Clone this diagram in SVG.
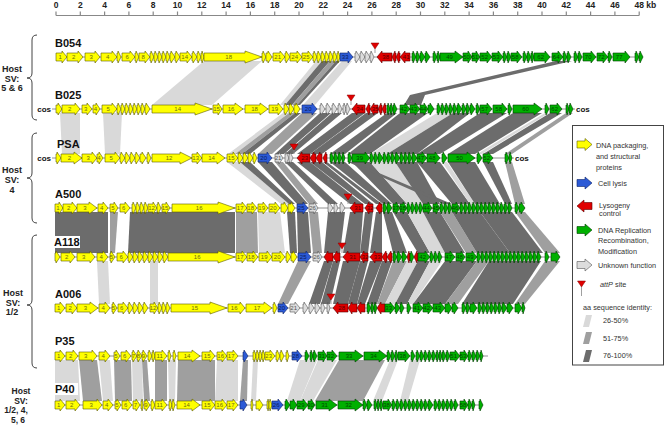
<svg xmlns="http://www.w3.org/2000/svg" width="664" height="430" viewBox="0 0 664 430">
<style>
text{font-family:"Liberation Sans",Arial,sans-serif}
.y{fill:#ffff00;stroke:#5c5c00;stroke-width:.6}
.g{fill:#00b000;stroke:#003c00;stroke-width:.6}
.r{fill:#e00000;stroke:#5a0000;stroke-width:.6}
.b{fill:#2c5ad6;stroke:#0d2466;stroke-width:.6}
.w{fill:#dcdcdc;stroke:#555;stroke-width:.6}
.bb{stroke:#777;stroke-width:.8}
.t{font-size:6px;text-anchor:middle}
.ty{fill:#6e6e10}.tg{fill:#004a00}.tr{fill:#5a0000}.tb{fill:#0b1d5a}.tw{fill:#555}
.L{fill:#d9d9d9}.M{fill:#9f9f9f}.D{fill:#6c6c6c}
.nm{font-size:11px;font-weight:bold;fill:#111}
.hs{font-size:9px;font-weight:bold;text-anchor:middle;fill:#222}
.hs2{font-size:8.5px;font-weight:bold;text-anchor:middle;fill:#222}
.ax{font-size:8.5px;font-weight:bold;text-anchor:middle;fill:#222}
.lg{font-size:7.3px;fill:#333}
.cos{font-size:8px;font-weight:bold;fill:#111}
.br{fill:none;stroke:#444;stroke-width:1}
</style>
<defs>
<path id="r2" d="M0 -4h1v-2l1 6l-1 6v-2h-1z"/>
<path id="r3" d="M0 -4h1v-2l2 6l-2 6v-2h-1z"/>
<path id="r4" d="M0 -4h1v-2l3 6l-3 6v-2h-1z"/>
<path id="r5" d="M0 -4h1v-2l4 6l-4 6v-2h-1z"/>
<path id="r6" d="M0 -4h2v-2l4 6l-4 6v-2h-2z"/>
<path id="r7" d="M0 -4h3v-2l4 6l-4 6v-2h-3z"/>
<path id="r8" d="M0 -4h4v-2l4 6l-4 6v-2h-4z"/>
<path id="r9" d="M0 -4h5v-2l4 6l-4 6v-2h-5z"/>
<path id="r10" d="M0 -4h5v-2l5 6l-5 6v-2h-5z"/>
<path id="r11" d="M0 -4h6v-2l5 6l-5 6v-2h-6z"/>
<path id="r12" d="M0 -4h7v-2l5 6l-5 6v-2h-7z"/>
<path id="r13" d="M0 -4h8v-2l5 6l-5 6v-2h-8z"/>
<path id="r14" d="M0 -4h9v-2l5 6l-5 6v-2h-9z"/>
<path id="r15" d="M0 -4h10v-2l5 6l-5 6v-2h-10z"/>
<path id="r16" d="M0 -4h11v-2l5 6l-5 6v-2h-11z"/>
<path id="r17" d="M0 -4h12v-2l5 6l-5 6v-2h-12z"/>
<path id="r18" d="M0 -4h13v-2l5 6l-5 6v-2h-13z"/>
<path id="r19" d="M0 -4h14v-2l5 6l-5 6v-2h-14z"/>
<path id="r20" d="M0 -4h12v-2l8 6l-8 6v-2h-12z"/>
<path id="r21" d="M0 -4h13v-2l8 6l-8 6v-2h-13z"/>
<path id="r22" d="M0 -4h14v-2l8 6l-8 6v-2h-14z"/>
<path id="r23" d="M0 -4h15v-2l8 6l-8 6v-2h-15z"/>
<path id="r24" d="M0 -4h16v-2l8 6l-8 6v-2h-16z"/>
<path id="r25" d="M0 -4h17v-2l8 6l-8 6v-2h-17z"/>
<path id="r26" d="M0 -4h18v-2l8 6l-8 6v-2h-18z"/>
<path id="r27" d="M0 -4h19v-2l8 6l-8 6v-2h-19z"/>
<path id="r29" d="M0 -4h21v-2l8 6l-8 6v-2h-21z"/>
<path id="r40" d="M0 -4h28v-2l12 6l-12 6v-2h-28z"/>
<path id="r56" d="M0 -4h39v-2l17 6l-17 6v-2h-39z"/>
<path id="r58" d="M0 -4h41v-2l17 6l-17 6v-2h-41z"/>
<path id="r60" d="M0 -4h43v-2l17 6l-17 6v-2h-43z"/>
<path id="r63" d="M0 -4h46v-2l17 6l-17 6v-2h-46z"/>
<path id="r67" d="M0 -4h50v-2l17 6l-17 6v-2h-50z"/>
<path id="l3" d="M3 -4h-1v-2l-2 6l2 6v-2h1z"/>
<path id="l4" d="M4 -4h-1v-2l-3 6l3 6v-2h1z"/>
<path id="l5" d="M5 -4h-1v-2l-4 6l4 6v-2h1z"/>
<path id="l6" d="M6 -4h-2v-2l-4 6l4 6v-2h2z"/>
<path id="l7" d="M7 -4h-3v-2l-4 6l4 6v-2h3z"/>
<path id="l8" d="M8 -4h-4v-2l-4 6l4 6v-2h4z"/>
<path id="l9" d="M9 -4h-5v-2l-4 6l4 6v-2h5z"/>
<path id="l10" d="M10 -4h-5v-2l-5 6l5 6v-2h5z"/>
<path id="l12" d="M12 -4h-7v-2l-5 6l5 6v-2h7z"/>
<path id="l13" d="M13 -4h-8v-2l-5 6l5 6v-2h8z"/>
<path id="l15" d="M15 -4h-10v-2l-5 6l5 6v-2h10z"/>
<path id="l17" d="M17 -4h-12v-2l-5 6l5 6v-2h12z"/>
<g id="att"><line x1="0" y1="-8" x2="0" y2="-4" stroke="#888" stroke-width=".8"/><path d="M-4 -14h8l-4 6z" fill="#e00000" stroke="#800" stroke-width=".5"/></g>
</defs>
<rect width="664" height="430" fill="#fff"/>

<g id="axis">
<path d="M56 15.5H639.2M56 11.5v4M80.3 11.5v4M104.6 11.5v4M128.9 11.5v4M153.2 11.5v4M177.5 11.5v4M201.8 11.5v4M226.1 11.5v4M250.4 11.5v4M274.7 11.5v4M299 11.5v4M323.3 11.5v4M347.6 11.5v4M371.9 11.5v4M396.2 11.5v4M420.5 11.5v4M444.8 11.5v4M469.1 11.5v4M493.4 11.5v4M517.7 11.5v4M542 11.5v4M566.3 11.5v4M590.6 11.5v4M614.9 11.5v4M639.2 11.5v4" stroke="#888" stroke-width="1.2" fill="none"/>
<g class="ax">
<text x="56" y="8">0</text><text x="80.3" y="8">2</text><text x="104.6" y="8">4</text><text x="128.9" y="8">6</text><text x="153.2" y="8">8</text><text x="177.5" y="8">10</text><text x="201.8" y="8">12</text><text x="226.1" y="8">14</text><text x="250.4" y="8">16</text><text x="274.7" y="8">18</text><text x="299" y="8">20</text><text x="323.3" y="8">22</text><text x="347.6" y="8">24</text><text x="371.9" y="8">26</text><text x="396.2" y="8">28</text><text x="420.5" y="8">30</text><text x="444.8" y="8">32</text><text x="469.1" y="8">34</text><text x="493.4" y="8">36</text><text x="517.7" y="8">38</text><text x="542" y="8">40</text><text x="566.3" y="8">42</text><text x="590.6" y="8">44</text><text x="614.9" y="8">46</text><text x="634.5" y="8" style="text-anchor:start">48 kb</text>
</g>
</g>

<g id="connectors">
<polygon class="L" points="204,61 262,61 212,105 152,105"/>
<polygon class="L" points="316,61 322,61 285,105 280,105"/>
<polygon class="D" points="322,61 330,61 292,105 285,105"/>
<polygon class="M" points="330,61 336,61 297,105 292,105"/>
<polygon class="D" points="336,61 340,61 300,105 297,105"/>
<polygon class="L" points="342,61 352,61 315,105 303,105"/>
<polygon class="D" points="556,61 572,61 425,95 421,105 404,105 410,95"/>

<polygon class="L" points="60,113 80,113 80,154 62,154"/>
<polygon class="L" points="103,113 122,113 120,154 105,154"/>
<polygon class="L" points="283,113 289,113 235,154 228,154"/>
<polygon class="M" points="289,113 295,113 242,154 235,154"/>
<polygon class="D" points="295,113 301,113 250,154 242,154"/>
<polygon class="M" points="302,113 317,113 272,154 258,154"/>
<polygon class="D" points="320,113 331,113 284,154 275,154"/>
<polygon class="D" points="332,113 342,113 293,154 285,154"/>
<polygon class="D" points="352,113 365,113 310,154 297,154"/>
<polygon class="D" points="366,113 378,113 322,154 310,154"/>
<polygon class="D" points="387,113 397,113 345,154 330,154"/>
<polygon class="D" points="400,113 428,113 370,154 348,154"/>
<polygon class="L" points="437,113 453,113 387,154 370,154"/>
<polygon class="D" points="453,113 470,113 417,154 387,154"/>
<polygon class="D" points="480,113 507,113 440,154 417,154"/>
<polygon class="D" points="513,113 542,113 475,154 448,154"/>
<polygon class="L" points="545,113 549,113 482,154 477,154"/>
<polygon class="D" points="550,113 562,113 493,154 483,154"/>
<polygon class="M" points="566,113 573,113 512,154 505,154"/>

<polygon class="L" points="227,162 240,162 289,204 281,204"/>
<polygon class="D" points="240,162 250,162 295,204 289,204"/>
<polygon class="D" points="258,162 272,162 308,204 297,204"/>
<polygon class="M" points="275,162 283,162 318,204 309,204"/>
<polygon class="D" points="285,162 293,162 338,204 328,204"/>
<polygon class="D" points="297,162 310,162 363,204 350,204"/>
<polygon class="D" points="310,162 322,162 373,204 365,204"/>
<polygon class="D" points="323,162 327,162 382,204 376,204"/>
<polygon class="D" points="330,162 345,162 392,204 383,204"/>
<polygon class="D" points="352,162 370,162 407,204 393,204"/>
<polygon class="L" points="370,162 395,162 423,204 407,204"/>
<polygon class="D" points="395,162 417,162 440,204 423,204"/>
<polygon class="D" points="348,162 353,162 452,204 443,204"/>
<polygon class="D" points="417,162 440,162 470,204 452,204"/>
<polygon class="L" points="442,162 447,162 475,204 470,204"/>
<polygon class="D" points="448,162 475,162 500,204 475,204"/>
<polygon class="D" points="483,162 493,162 512,204 505,204"/>
<polygon class="M" points="505,162 512,162 525,204 515,204"/>

<polygon class="D" points="55,212 108,212 108,253 55,253"/>
<polygon class="M" points="110,212 118,212 115,253 110,253"/>
<polygon class="D" points="130,212 235,212 235,253 128,253"/>
<polygon class="M" points="236,212 257,212 258,253 236,253"/>
<polygon class="L" points="258,212 280,212 285,253 259,253"/>
<polygon class="D" points="287,212 295,212 297,253 290,253"/>
<polygon class="D" points="297,212 308,212 311,253 298,253"/>
<polygon class="M" points="309,212 318,212 322,253 313,253"/>
<polygon class="D" points="328,212 345,212 340,253 324,253"/>
<polygon class="D" points="350,212 363,212 360,253 343,253"/>
<polygon class="D" points="365,212 373,212 368,253 360,253"/>
<polygon class="D" points="376,212 382,212 382,253 370,253"/>
<polygon class="D" points="383,212 392,212 407,253 393,253"/>
<polygon class="D" points="393,212 407,212 430,253 418,253"/>
<polygon class="L" points="407,212 423,212 445,253 430,253"/>
<polygon class="D" points="423,212 440,212 465,253 445,253"/>
<polygon class="M" points="440,212 452,212 477,253 466,253"/>
<polygon class="D" points="452,212 480,212 510,253 477,253"/>
<polygon class="D" points="480,212 512,212 543,253 510,253"/>
<polygon class="M" points="515,212 525,212 560,253 545,253"/>

<polygon class="L" points="97,261 108,261 110,304 99,304"/>
<polygon class="L" points="150,261 158,261 158,304 150,304"/>
<polygon class="M" points="298,261 311,261 288,304 278,304"/>
<polygon class="D" points="324,261 333,261 320,304 309,304"/>
<polygon class="D" points="333,261 340,261 330,304 321,304"/>
<polygon class="D" points="343,261 360,261 348,304 333,304"/>
<polygon class="D" points="360,261 368,261 357,304 348,304"/>
<polygon class="D" points="370,261 382,261 365,304 357,304"/>
<polygon class="D" points="382,261 392,261 377,304 367,304"/>
<polygon class="M" points="393,261 407,261 385,304 377,304"/>
<polygon class="L" points="407,261 418,261 395,304 385,304"/>
<polygon class="D" points="418,261 430,261 407,304 395,304"/>
<polygon class="L" points="430,261 442,261 413,304 407,304"/>
<polygon class="D" points="445,261 477,261 445,304 413,304"/>
<polygon class="M" points="477,261 489,261 458,304 445,304"/>
<polygon class="D" points="489,261 541,261 513,304 462,304"/>
<polygon class="M" points="545,261 560,261 525,304 515,304"/>

<polygon class="L" points="55,360 78,360 80,401 55,401"/>
<polygon class="M" points="79,360 97,360 102,401 83,401"/>
<polygon class="L" points="99,360 110,360 113,401 103,401"/>
<polygon class="M" points="114,360 131,360 132,401 115,401"/>
<polygon class="L" points="132,360 142,360 143,401 133,401"/>
<polygon class="M" points="142,360 147,360 150,401 144,401"/>
<polygon class="M" points="155,360 167,360 167,401 155,401"/>
<polygon class="L" points="168,360 176,360 175,401 169,401"/>
<polygon class="M" points="178,360 215,360 215,401 177,401"/>
<polygon class="L" points="217,360 238,360 238,401 215,401"/>
<polygon class="M" points="243,360 248,360 247,401 240,401"/>
<polygon class="L" points="253,360 258,360 256,401 251,401"/>
<polygon class="L" points="300,360 317,360 300,401 287,401"/>
<polygon class="L" points="318,360 337,360 313,401 300,401"/>
<polygon class="M" points="339,360 385,360 363,401 315,401"/>
<polygon class="L" points="390,360 398,360 382,401 373,401"/>
<polygon class="L" points="410,360 420,360 408,401 400,401"/>
</g>

<g id="genome-B054" transform="translate(0,57)">
<line class="bb" x1="56" y1="0" x2="643" y2="0"/>
<g class="y"><use href="#r11" x="56"/><use href="#r16" x="67"/><use href="#r15" x="85"/><use href="#r16" x="101"/><use href="#r4" x="117"/><use href="#r13" x="122"/><use href="#r4" x="135"/><use href="#r11" x="139"/><use href="#r4" x="150"/><use href="#r4" x="154"/><use href="#r4" x="158"/><use href="#r4" x="162"/><use href="#r4" x="166"/><use href="#r5" x="170"/><use href="#r5" x="175"/><use href="#r12" x="180"/><use href="#r5" x="192"/><use href="#r4" x="197"/><use href="#r3" x="201"/><use href="#r58" x="204"/><use href="#r4" x="262"/><use href="#r6" x="266"/><use href="#r12" x="273"/><use href="#r5" x="285"/><use href="#r12" x="290"/><use href="#r11" x="302"/><use href="#r4" x="313"/><use href="#r4" x="317"/><use href="#r4" x="321"/><use href="#r4" x="325"/><use href="#r4" x="329"/><use href="#r4" x="333"/><use href="#r3" x="337"/></g>
<g class="b"><use href="#r13" x="340"/></g>
<g class="w"><use href="#r5" x="355"/><use href="#r5" x="360"/><use href="#r5" x="365"/><use href="#r4" x="370"/></g>
<g class="r"><use href="#l15" x="377"/><use href="#l4" x="392"/><use href="#l4" x="396"/><use href="#l10" x="400"/></g>
<g class="g"><use href="#r4" x="412"/><use href="#r4" x="416"/><use href="#r5" x="420"/><use href="#r5" x="425"/><use href="#r4" x="433"/><use href="#r3" x="437"/><use href="#r23" x="440"/><use href="#r9" x="463"/><use href="#r8" x="472"/><use href="#r12" x="480"/><use href="#r11" x="492"/><use href="#r4" x="503"/><use href="#r4" x="507"/><use href="#r11" x="511"/><use href="#r4" x="523"/><use href="#r4" x="527"/><use href="#r3" x="531"/><use href="#r16" x="534"/><use href="#r11" x="552"/><use href="#r4" x="563"/><use href="#r4" x="567"/><use href="#r4" x="574"/><use href="#r4" x="578"/><use href="#r13" x="583"/><use href="#r11" x="597"/><use href="#r4" x="608"/><use href="#r17" x="613"/><use href="#r4" x="635"/><use href="#r4" x="639"/></g>
<use href="#att" x="375"/>
<g class="t ty"><text x="60.2" y="2">1</text><text x="73.7" y="2">2</text><text x="91.2" y="2">3</text><text x="107.7" y="2">4</text><text x="127.2" y="2">6</text><text x="143.2" y="2">8</text><text x="184.7" y="2">14</text><text x="228.7" y="2">18</text><text x="277.7" y="2">21</text><text x="294.7" y="2">24</text><text x="306.2" y="2">25</text></g>
<g class="t tb"><text x="345.2" y="2">33</text></g>
<g class="t tr"><text x="385.7" y="2">38</text><text x="406.2" y="2">41</text></g>
<g class="t tg"><text x="449.5" y="2">49</text><text x="466.5" y="2">50</text><text x="475" y="2">51</text><text x="484.7" y="2">52</text><text x="496.2" y="2">53</text><text x="515.2" y="2">58</text><text x="540.7" y="2">62</text><text x="556.2" y="2">64</text><text x="588.2" y="2">70</text><text x="601.2" y="2">72</text><text x="619.2" y="2">77</text></g>
<text class="nm" x="55" y="-10">B054</text>
</g>

<g id="genome-B025" transform="translate(0,109)">
<line class="bb" x1="52" y1="0" x2="575" y2="0"/>
<text class="cos" x="51" y="3" text-anchor="end">cos</text>
<text class="cos" x="576" y="3">cos</text>
<g class="y"><use href="#r6" x="56"/><use href="#r18" x="62"/><use href="#r10" x="82"/><use href="#r7" x="93"/><use href="#r15" x="102"/><use href="#r4" x="117"/><use href="#r4" x="121"/><use href="#r4" x="125"/><use href="#r4" x="129"/><use href="#r4" x="133"/><use href="#r4" x="137"/><use href="#r4" x="141"/><use href="#r5" x="145"/><use href="#r60" x="152"/><use href="#r9" x="213"/><use href="#r20" x="223"/><use href="#r23" x="245"/><use href="#r14" x="269"/><use href="#r5" x="284"/><use href="#r5" x="289"/><use href="#r6" x="294"/></g>
<g class="b"><use href="#r15" x="302"/></g>
<g class="w"><use href="#r5" x="320"/><use href="#r5" x="326"/><use href="#r5" x="332"/><use href="#r4" x="338"/><use href="#r3" x="343"/><use href="#r4" x="346"/></g>
<g class="r"><use href="#l13" x="352"/><use href="#l4" x="366"/><use href="#l8" x="370"/><use href="#l4" x="378"/><use href="#l4" x="382"/></g>
<g class="g"><use href="#r3" x="387"/><use href="#r3" x="390"/><use href="#r4" x="393"/><use href="#r10" x="400"/><use href="#r10" x="410"/><use href="#r8" x="420"/><use href="#r6" x="428"/><use href="#r4" x="437"/><use href="#r4" x="441"/><use href="#r4" x="445"/><use href="#r4" x="449"/><use href="#r4" x="453"/><use href="#r5" x="457"/><use href="#r4" x="462"/><use href="#r4" x="466"/><use href="#r5" x="470"/><use href="#r4" x="476"/><use href="#r12" x="480"/><use href="#r14" x="493"/><use href="#r4" x="508"/><use href="#r29" x="513"/><use href="#r4" x="545"/><use href="#r12" x="550"/><use href="#r3" x="566"/><use href="#r4" x="569"/></g>
<use href="#att" x="351"/>
<g class="t ty"><text x="69.7" y="2">2</text><text x="85.7" y="2">3</text><text x="95.5" y="2">4</text><text x="108.2" y="2">5</text><text x="177.7" y="2">14</text><text x="216.5" y="2">15</text><text x="231" y="2">16</text><text x="254.5" y="2">18</text><text x="274.7" y="2">19</text></g>
<g class="t tb"><text x="308.2" y="2">20</text></g>
<g class="t tr"><text x="359.7" y="2">34</text><text x="375" y="2">35</text></g>
<g class="t tg"><text x="403.7" y="2">42</text><text x="413.7" y="2">43</text><text x="423" y="2">44</text><text x="484.7" y="2">57</text><text x="498.7" y="2">58</text><text x="525.5" y="2">60</text><text x="554.7" y="2">62</text></g>
<text class="nm" x="55" y="-10">B025</text>
</g>

<g id="genome-PSA" transform="translate(0,158)">
<line class="bb" x1="52" y1="0" x2="514" y2="0"/>
<text class="cos" x="51" y="3" text-anchor="end">cos</text>
<text class="cos" x="515" y="3">cos</text>
<g class="y"><use href="#r5" x="56"/><use href="#r21" x="61"/><use href="#r15" x="82"/><use href="#r6" x="97"/><use href="#r15" x="105"/><use href="#r5" x="120"/><use href="#r5" x="125"/><use href="#r5" x="130"/><use href="#r5" x="135"/><use href="#r6" x="140"/><use href="#r4" x="147"/><use href="#r40" x="152"/><use href="#r10" x="192"/><use href="#r23" x="202"/><use href="#r11" x="227"/><use href="#r5" x="238"/><use href="#r5" x="243"/><use href="#r5" x="248"/><use href="#r4" x="253"/></g>
<g class="b"><use href="#r14" x="258"/></g>
<g class="w"><use href="#r8" x="275"/><use href="#r4" x="285"/><use href="#r4" x="289"/></g>
<g class="r"><use href="#l13" x="297"/><use href="#l6" x="310"/><use href="#l6" x="316"/><use href="#l4" x="323"/></g>
<g class="g"><use href="#r4" x="330"/><use href="#r4" x="334"/><use href="#r4" x="338"/><use href="#r3" x="342"/><use href="#r4" x="348"/><use href="#r18" x="352"/><use href="#r4" x="370"/><use href="#r4" x="374"/><use href="#r5" x="378"/><use href="#r4" x="383"/><use href="#r4" x="387"/><use href="#r4" x="391"/><use href="#r5" x="395"/><use href="#r4" x="400"/><use href="#r4" x="404"/><use href="#r4" x="408"/><use href="#r5" x="412"/><use href="#r10" x="417"/><use href="#r13" x="427"/><use href="#r5" x="442"/><use href="#r27" x="448"/><use href="#r5" x="477"/><use href="#r10" x="483"/><use href="#r4" x="505"/><use href="#r3" x="509"/></g>
<use href="#att" x="294"/>
<g class="t ty"><text x="69.5" y="2">2</text><text x="88.2" y="2">3</text><text x="99" y="2">4</text><text x="111.2" y="2">5</text><text x="169" y="2">12</text><text x="195.7" y="2">13</text><text x="211.5" y="2">14</text><text x="231.2" y="2">15</text></g>
<g class="t tb"><text x="263.7" y="2">20</text></g>
<g class="t tw"><text x="278" y="2">21</text></g>
<g class="t tr"><text x="304.7" y="2">23</text></g>
<g class="t tg"><text x="359.7" y="2">39</text><text x="420.7" y="2">47</text><text x="432.2" y="2">48</text><text x="459.5" y="2">50</text><text x="486.7" y="2">52</text></g>
<text class="nm" x="57" y="-10">PSA</text>
</g>

<g id="genome-A500" transform="translate(0,208)">
<line class="bb" x1="55" y1="0" x2="525" y2="0"/>
<g class="y"><use href="#r8" x="55"/><use href="#r14" x="63"/><use href="#r20" x="77"/><use href="#r10" x="98"/><use href="#r8" x="110"/><use href="#r10" x="120"/><use href="#r4" x="132"/><use href="#r4" x="136"/><use href="#r4" x="140"/><use href="#r4" x="144"/><use href="#r9" x="148"/><use href="#r4" x="157"/><use href="#r8" x="162"/><use href="#r63" x="172"/><use href="#r11" x="236"/><use href="#r10" x="247"/><use href="#r10" x="258"/><use href="#r11" x="269"/><use href="#r7" x="281"/><use href="#r7" x="288"/></g>
<g class="b"><use href="#r11" x="297"/></g>
<g class="w"><use href="#r9" x="309"/><use href="#r5" x="328"/><use href="#r4" x="334"/><use href="#r5" x="340"/></g>
<g class="r"><use href="#l13" x="350"/><use href="#l8" x="365"/><use href="#l6" x="376"/></g>
<g class="g"><use href="#r4" x="383"/><use href="#r5" x="387"/><use href="#r7" x="393"/><use href="#r7" x="400"/><use href="#r4" x="407"/><use href="#r4" x="411"/><use href="#r4" x="415"/><use href="#r4" x="419"/><use href="#r9" x="423"/><use href="#r7" x="433"/><use href="#r4" x="440"/><use href="#r4" x="444"/><use href="#r4" x="448"/><use href="#r8" x="452"/><use href="#r4" x="460"/><use href="#r4" x="464"/><use href="#r4" x="468"/><use href="#r4" x="472"/><use href="#r4" x="476"/><use href="#r4" x="480"/><use href="#r4" x="484"/><use href="#r4" x="488"/><use href="#r4" x="492"/><use href="#r4" x="496"/><use href="#r4" x="500"/><use href="#r4" x="504"/><use href="#r4" x="508"/><use href="#r4" x="515"/><use href="#r6" x="519"/></g>
<use href="#att" x="348"/>
<g class="t ty"><text x="58" y="2">1</text><text x="68.7" y="2">2</text><text x="85" y="2">3</text><text x="101.7" y="2">4</text><text x="113" y="2">5</text><text x="123.7" y="2">6</text><text x="151.5" y="2">12</text><text x="165" y="2">15</text><text x="199.2" y="2">16</text><text x="240.2" y="2">17</text><text x="250.7" y="2">18</text><text x="261.7" y="2">19</text><text x="273.2" y="2">20</text></g>
<g class="t tb"><text x="301.2" y="2">25</text></g>
<g class="t tw"><text x="312.5" y="2">26</text></g>
<g class="t tr"><text x="357.7" y="2">31</text><text x="370" y="2">32</text></g>
<g class="t tg"><text x="395.5" y="2">37</text><text x="402.5" y="2">38</text><text x="426.5" y="2">44</text><text x="435.5" y="2">45</text><text x="455" y="2">46</text></g>
<text class="nm" x="55" y="-10">A500</text>
</g>

<g id="genome-A118" transform="translate(0,257)">
<line class="bb" x1="55" y1="0" x2="560" y2="0"/>
<g class="y"><use href="#r5" x="55"/><use href="#r14" x="61"/><use href="#r18" x="77"/><use href="#r11" x="97"/><use href="#r5" x="110"/><use href="#r11" x="117"/><use href="#r5" x="128"/><use href="#r5" x="133"/><use href="#r5" x="138"/><use href="#r5" x="143"/><use href="#r5" x="148"/><use href="#r5" x="153"/><use href="#r5" x="158"/><use href="#r5" x="163"/><use href="#r67" x="168"/><use href="#r11" x="236"/><use href="#r11" x="247"/><use href="#r13" x="259"/><use href="#r13" x="272"/><use href="#r5" x="286"/><use href="#r6" x="291"/></g>
<g class="b"><use href="#r13" x="298"/></g>
<g class="w"><use href="#r9" x="313"/></g>
<g class="r"><use href="#l9" x="324"/><use href="#l7" x="333"/><use href="#l17" x="343"/><use href="#l8" x="360"/><use href="#l12" x="370"/><use href="#l5" x="382"/><use href="#l5" x="387"/><use href="#l3" x="407"/><use href="#l4" x="414"/></g>
<g class="g"><use href="#r4" x="393"/><use href="#r5" x="397"/><use href="#r5" x="402"/><use href="#r4" x="410"/><use href="#r12" x="418"/><use href="#r4" x="430"/><use href="#r4" x="434"/><use href="#r4" x="438"/><use href="#r10" x="445"/><use href="#r9" x="456"/><use href="#r11" x="466"/><use href="#r4" x="477"/><use href="#r4" x="481"/><use href="#r4" x="485"/><use href="#r4" x="489"/><use href="#r4" x="493"/><use href="#r4" x="497"/><use href="#r4" x="501"/><use href="#r4" x="505"/><use href="#r4" x="509"/><use href="#r4" x="513"/><use href="#r4" x="517"/><use href="#r4" x="521"/><use href="#r4" x="525"/><use href="#r4" x="529"/><use href="#r4" x="533"/><use href="#r4" x="537"/><use href="#r4" x="545"/><use href="#r9" x="551"/></g>
<use href="#att" x="342"/>
<g class="t ty"><text x="66.7" y="2">2</text><text x="83.7" y="2">3</text><text x="101.2" y="2">4</text><text x="111.5" y="2">5</text><text x="121.2" y="2">6</text><text x="197.2" y="2">16</text><text x="240.2" y="2">17</text><text x="251.2" y="2">18</text><text x="264.2" y="2">19</text><text x="277.2" y="2">20</text></g>
<g class="t tb"><text x="303.2" y="2">25</text></g>
<g class="t tw"><text x="316.5" y="2">26</text></g>
<g class="t tr"><text x="352.7" y="2">31</text><text x="365" y="2">32</text><text x="377.2" y="2">33</text></g>
<g class="t tg"><text x="422.7" y="2">42</text><text x="448.7" y="2">47</text><text x="459.5" y="2">48</text><text x="470.2" y="2">49</text></g>
<rect x="53" y="-21" width="27" height="12" fill="#fff"/>
<text class="nm" x="54" y="-11">A118</text>
</g>

<g id="genome-A006" transform="translate(0,308)">
<line class="bb" x1="55" y1="0" x2="525" y2="0"/>
<g class="y"><use href="#r10" x="55"/><use href="#r11" x="66"/><use href="#r21" x="77"/><use href="#r11" x="99"/><use href="#r5" x="112"/><use href="#r10" x="118"/><use href="#r5" x="128"/><use href="#r5" x="133"/><use href="#r5" x="138"/><use href="#r5" x="143"/><use href="#r8" x="150"/><use href="#r4" x="158"/><use href="#r4" x="162"/><use href="#r4" x="166"/><use href="#r56" x="171"/><use href="#r17" x="228"/><use href="#r26" x="246"/><use href="#r4" x="273"/></g>
<g class="b"><use href="#r10" x="278"/></g>
<g class="w"><use href="#r10" x="290"/><use href="#r5" x="303"/><use href="#r5" x="309"/><use href="#r5" x="315"/><use href="#r4" x="321"/><use href="#r3" x="327"/></g>
<g class="r"><use href="#l15" x="333"/><use href="#l9" x="348"/><use href="#l8" x="357"/><use href="#l8" x="377"/></g>
<g class="g"><use href="#r4" x="367"/><use href="#r3" x="371"/><use href="#r3" x="374"/><use href="#r10" x="385"/><use href="#r5" x="395"/><use href="#r4" x="400"/><use href="#r4" x="407"/><use href="#r10" x="413"/><use href="#r10" x="423"/><use href="#r12" x="433"/><use href="#r7" x="445"/><use href="#r6" x="452"/><use href="#r4" x="462"/><use href="#r4" x="466"/><use href="#r7" x="470"/><use href="#r4" x="478"/><use href="#r4" x="482"/><use href="#r4" x="486"/><use href="#r4" x="490"/><use href="#r4" x="494"/><use href="#r4" x="498"/><use href="#r5" x="502"/><use href="#r6" x="507"/><use href="#r7" x="515"/><use href="#r3" x="522"/></g>
<use href="#att" x="331"/>
<g class="t ty"><text x="58.7" y="2">1</text><text x="70.2" y="2">2</text><text x="85.5" y="2">3</text><text x="103.2" y="2">4</text><text x="113.5" y="2">5</text><text x="121.7" y="2">6</text><text x="153" y="2">12</text><text x="194.7" y="2">15</text><text x="234.2" y="2">16</text><text x="257" y="2">17</text></g>
<g class="t tb"><text x="281.7" y="2">20</text></g>
<g class="t tw"><text x="293.7" y="2">21</text></g>
<g class="t tr"><text x="341.7" y="2">28</text></g>
<g class="t tg"><text x="388.7" y="2">33</text><text x="416.7" y="2">41</text><text x="426.7" y="2">42</text><text x="437.7" y="2">43</text></g>
<text class="nm" x="55" y="-10">A006</text>
</g>

<g id="genome-P35" transform="translate(0,356)">
<line class="bb" x1="55" y1="0" x2="488" y2="0"/>
<g class="y"><use href="#r10" x="55"/><use href="#r12" x="66"/><use href="#r18" x="79"/><use href="#r11" x="99"/><use href="#r6" x="114"/><use href="#r10" x="121"/><use href="#r5" x="132"/><use href="#r5" x="137"/><use href="#r5" x="142"/><use href="#r4" x="148"/><use href="#r3" x="152"/><use href="#r12" x="155"/><use href="#r3" x="168"/><use href="#r3" x="173"/><use href="#r22" x="178"/><use href="#r13" x="202"/><use href="#r10" x="217"/><use href="#r11" x="227"/><use href="#r3" x="253"/><use href="#r3" x="256"/><use href="#r3" x="259"/><use href="#r3" x="262"/><use href="#r10" x="265"/><use href="#r4" x="276"/><use href="#r4" x="280"/><use href="#r3" x="286"/></g>
<g class="b"><use href="#r5" x="243"/><use href="#r10" x="292"/></g>
<g class="g"><use href="#r4" x="305"/><use href="#r3" x="310"/><use href="#r4" x="313"/><use href="#r9" x="318"/><use href="#r10" x="327"/><use href="#r24" x="339"/><use href="#r23" x="364"/><use href="#r4" x="387"/><use href="#r4" x="391"/><use href="#r3" x="395"/><use href="#r12" x="398"/><use href="#r4" x="411"/><use href="#r4" x="416"/><use href="#r4" x="420"/><use href="#r4" x="424"/><use href="#r4" x="428"/><use href="#r4" x="432"/><use href="#r3" x="436"/><use href="#r3" x="439"/><use href="#r4" x="442"/><use href="#r4" x="446"/><use href="#r10" x="450"/><use href="#r8" x="460"/><use href="#r4" x="468"/><use href="#r4" x="472"/><use href="#r4" x="476"/><use href="#r3" x="480"/></g>
<g class="t ty"><text x="58.7" y="2">1</text><text x="70.7" y="2">2</text><text x="85.7" y="2">3</text><text x="103.2" y="2">4</text><text x="116" y="2">5</text><text x="124.7" y="2">6</text><text x="133.5" y="2">7</text><text x="138.5" y="2">8</text><text x="143.5" y="2">9</text><text x="159.7" y="2">11</text><text x="187" y="2">14</text><text x="207.2" y="2">15</text><text x="220.7" y="2">16</text><text x="231.2" y="2">17</text><text x="268.7" y="2">23</text></g>
<g class="t tb"><text x="295.7" y="2">28</text></g>
<g class="t tg"><text x="321.5" y="2">31</text><text x="330.7" y="2">32</text><text x="349" y="2">33</text><text x="373.5" y="2">34</text><text x="402.7" y="2">38</text><text x="453.7" y="2">51</text><text x="463" y="2">53</text></g>
<text class="nm" x="55" y="-11">P35</text>
</g>

<g id="genome-P40" transform="translate(0,405)">
<line class="bb" x1="55" y1="0" x2="483" y2="0"/>
<g class="y"><use href="#r10" x="55"/><use href="#r14" x="66"/><use href="#r19" x="83"/><use href="#r10" x="103"/><use href="#r6" x="115"/><use href="#r10" x="122"/><use href="#r7" x="133"/><use href="#r2" x="141"/><use href="#r6" x="144"/><use href="#r4" x="151"/><use href="#r12" x="155"/><use href="#r3" x="169"/><use href="#r3" x="172"/><use href="#r23" x="177"/><use href="#r13" x="202"/><use href="#r12" x="215"/><use href="#r11" x="227"/><use href="#r2" x="251"/><use href="#r7" x="256"/><use href="#r2" x="267"/><use href="#r3" x="269"/></g>
<g class="b"><use href="#r7" x="240"/><use href="#r11" x="272"/></g>
<g class="g"><use href="#r5" x="285"/><use href="#r7" x="290"/><use href="#r11" x="297"/><use href="#r7" x="308"/><use href="#r21" x="316"/><use href="#r25" x="338"/><use href="#r4" x="363"/><use href="#r5" x="367"/><use href="#r3" x="374"/><use href="#r3" x="377"/><use href="#r3" x="380"/><use href="#r9" x="383"/><use href="#r4" x="392"/><use href="#r4" x="396"/><use href="#r4" x="400"/><use href="#r4" x="404"/><use href="#r4" x="408"/><use href="#r4" x="412"/><use href="#r4" x="416"/><use href="#r4" x="420"/><use href="#r4" x="424"/><use href="#r5" x="428"/><use href="#r4" x="434"/><use href="#r4" x="438"/><use href="#r4" x="442"/><use href="#r4" x="446"/><use href="#r4" x="450"/><use href="#r4" x="454"/><use href="#r8" x="460"/><use href="#r4" x="468"/><use href="#r3" x="472"/><use href="#r4" x="479"/></g>
<g class="t ty"><text x="58.7" y="2">1</text><text x="71.7" y="2">2</text><text x="91.2" y="2">3</text><text x="106.7" y="2">4</text><text x="117" y="2">5</text><text x="125.7" y="2">6</text><text x="135.5" y="2">7</text><text x="146" y="2">9</text><text x="159.7" y="2">11</text><text x="186.5" y="2">14</text><text x="207.2" y="2">15</text><text x="219.7" y="2">16</text><text x="231.2" y="2">17</text></g>
<g class="t tb"><text x="276.2" y="2">26</text></g>
<g class="t tg"><text x="301.2" y="2">29</text><text x="310.5" y="2">30</text><text x="324.5" y="2">31</text><text x="348.5" y="2">32</text><text x="386.5" y="2">38</text><text x="463" y="2">58</text></g>
<rect x="53" y="-22" width="25" height="12" fill="#fff"/>
<text class="nm" x="55" y="-12">P40</text>
</g>

<g id="hosts">
<path class="br" d="M37 35Q32 35 32 40V73Q32 78 27 78Q32 78 32 83V115Q32 120 37 120"/>
<path class="br" d="M37 133Q32 133 32 138V173Q32 178 27 178Q32 178 32 183V218Q32 223 37 223"/>
<path class="br" d="M37 235Q32 235 32 240V300Q32 305 27 305Q32 305 32 310V363Q32 368 37 368"/>
<text class="hs" x="12" y="72">Host</text><text class="hs" x="12" y="81.5">SV:</text><text class="hs" x="12" y="91">5 &amp; 6</text>
<text class="hs" x="12" y="173">Host</text><text class="hs" x="12" y="183">SV:</text><text class="hs" x="12" y="193">4</text>
<text class="hs" x="13" y="296">Host</text><text class="hs" x="13" y="305.5">SV:</text><text class="hs" x="12" y="315">1/2</text>
<text class="hs2" x="21" y="394">Host</text><text class="hs2" x="21" y="403.5">SV:</text><text class="hs2" x="16" y="413">1/2, 4,</text><text class="hs2" x="18" y="422.5">5, 6</text>
</g>

<g id="legend">
<rect x="572.5" y="125.5" width="91" height="239.5" fill="#fff" stroke="#444" stroke-width="1"/>
<path class="y" d="M577 141h8v-2.5l7 6l-7 6v-2.5h-8z"/>
<path class="b" d="M577 179.5h8v-2.5l7 6l-7 6v-2.5h-8z"/>
<path class="r" d="M592 202.5h-8v-2.5l-7 6l7 6v-2.5h8z"/>
<path class="g" d="M577 226.5h8v-2.5l7 6l-7 6v-2.5h-8z"/>
<path class="w" d="M577 261.5h8v-2.5l7 6l-7 6v-2.5h-8z"/>
<line x1="581.5" y1="287" x2="581.5" y2="296" stroke="#888" stroke-width=".8"/>
<path d="M577.5 281h8l-4 6z" fill="#e00000" stroke="#800" stroke-width=".5"/>
<polygon class="L" points="586,315 592,315 589,327 583,327"/>
<polygon class="M" points="586,332 592,332 589,344 583,344"/>
<polygon class="D" points="586,350 592,350 589,362 583,362"/>
<g class="lg">
<text x="596" y="147.5">DNA packaging,</text>
<text x="596" y="159">and structural</text>
<text x="596" y="170">proteins</text>
<text x="598" y="185.5">Cell lysis</text>
<text x="599" y="207.5">Lysogeny</text>
<text x="599" y="215.5">control</text>
<text x="598" y="232.5">DNA Replication</text>
<text x="598" y="243">Recombination,</text>
<text x="598" y="253.5">Modification</text>
<text x="598" y="267.5">Unknown function</text>
<text x="600" y="286.5"><tspan font-style="italic">attP</tspan> site</text>
<text x="583" y="309.5">aa sequence identity:</text>
<text x="603" y="323">26-50%</text>
<text x="603" y="341">51-75%</text>
<text x="603" y="358">76-100%</text>
</g>
</g>
</svg>
